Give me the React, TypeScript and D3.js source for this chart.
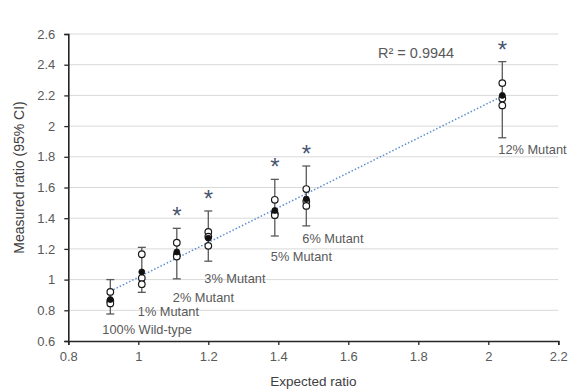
import { useEffect, useRef } from "react";
import * as d3 from "d3";

// values
const groups = ["100% Wild-type", "1% Mutant", "2% Mutant", "3% Mutant", "5% Mutant", "6% Mutant", "12% Mutant"];
const expected = [0.92, 1.01, 1.11, 1.2, 1.39, 1.48, 2.04];
const replicates = [
  [0.92, 0.86, 0.845],
  [1.165, 1.01, 0.97],
  [1.24, 1.16, 1.15],
  [1.31, 1.28, 1.22],
  [1.52, 1.43, 1.42],
  [1.59, 1.51, 1.48],
  [2.28, 2.18, 2.135],
];
const means = [0.87, 1.05, 1.18, 1.27, 1.45, 1.525, 2.2];
const ciLow = [0.776, 0.917, 1.005, 1.12, 1.284, 1.35, 1.924];
const ciHigh = [1.0, 1.21, 1.334, 1.447, 1.653, 1.74, 2.42];
const significant = [false, false, true, true, true, true, true];
const labelY = [0.646, 0.763, 0.854, 0.978, 1.121, 1.238, 1.818];
const xTicks = [0.8, 1, 1.2, 1.4, 1.6, 1.8, 2, 2.2];
const yTicks = [0.6, 0.8, 1, 1.2, 1.4, 1.6, 1.8, 2, 2.2, 2.4, 2.6];
const rSquared = "0.9944";

export default function App() {
  const svgRef = useRef<SVGSVGElement | null>(null);

  useEffect(() => {
    if (!svgRef.current) return;
    const svg = d3.select(svgRef.current);
    svg.selectAll("*").remove();

    const font = "'Liberation Sans', Arial, sans-serif";
    const grey = "#595959";

    const x = d3.scaleLinear().domain([0.8, 2.2]).range([68.3, 558.3]);
    const y = d3.scaleLinear().domain([0.6, 2.6]).range([341, 34]);

    svg.append("rect").attr("width", 580).attr("height", 392).attr("fill", "#fff");

    // gridlines
    svg.append("g")
      .selectAll("line")
      .data(yTicks.slice(1))
      .enter()
      .append("line")
      .attr("x1", x(0.8)).attr("x2", x(2.2))
      .attr("y1", d => y(d)).attr("y2", d => y(d))
      .attr("stroke", "#d9d9d9")
      .attr("stroke-width", 1);

    // axes
    const xAxis = svg.append("g")
      .attr("transform", `translate(0,${y(0.6)})`)
      .call(d3.axisBottom(x).tickValues(xTicks).tickSize(4).tickPadding(7).tickFormat(d => String(+d)));
    const yAxis = svg.append("g")
      .attr("transform", `translate(${x(0.8)},0)`)
      .call(d3.axisLeft(y).tickValues(yTicks).tickSize(4).tickPadding(9).tickFormat(d => String(+d)));

    [xAxis, yAxis].forEach(a => {
      a.select(".domain").attr("stroke", "#262626").attr("stroke-width", 1.6);
      a.selectAll(".tick line").attr("stroke", "#262626").attr("stroke-width", 1.3);
      a.selectAll(".tick text")
        .attr("fill", grey)
        .style("font-family", font)
        .style("font-size", "13px");
    });

    // axis titles
    svg.append("text")
      .attr("x", (x(0.8) + x(2.2)) / 2)
      .attr("y", 386)
      .attr("text-anchor", "middle")
      .attr("fill", "#404040")
      .style("font-family", font)
      .style("font-size", "13.5px")
      .text("Expected ratio");

    svg.append("text")
      .attr("transform", `translate(24,${(y(0.6) + y(2.6)) / 2 - 10}) rotate(-90)`)
      .attr("text-anchor", "middle")
      .attr("fill", "#404040")
      .style("font-family", font)
      .style("font-size", "14px")
      .text("Measured ratio (95% CI)");

    // trend line (least squares on the means)
    const mx = d3.mean(expected) as number;
    const my = d3.mean(means) as number;
    const slope =
      d3.sum(expected, (v, i) => (v - mx) * (means[i] - my)) /
      d3.sum(expected, v => (v - mx) * (v - mx));
    const intercept = my - slope * mx;
    const xExt = d3.extent(expected) as [number, number];

    svg.append("path")
      .datum(xExt)
      .attr("d", d3.line<number>().x(d => x(d)).y(d => y(intercept + slope * d)))
      .attr("fill", "none")
      .attr("stroke", "#5b8fd0")
      .attr("stroke-width", 1.5)
      .attr("stroke-dasharray", "1.5 2");

    // error bars, replicate points, means, stars and labels
    const g = svg.append("g");
    expected.forEach((ex, i) => {
      const cx = x(ex);
      g.append("line")
        .attr("x1", cx).attr("x2", cx)
        .attr("y1", y(ciLow[i])).attr("y2", y(ciHigh[i]))
        .attr("stroke", "#595959").attr("stroke-width", 1.3);
      [ciLow[i], ciHigh[i]].forEach(v => {
        g.append("line")
          .attr("x1", cx - 4).attr("x2", cx + 4)
          .attr("y1", y(v)).attr("y2", y(v))
          .attr("stroke", "#595959").attr("stroke-width", 1.3);
      });

      replicates[i].forEach(v => {
        g.append("circle")
          .attr("cx", cx).attr("cy", y(v)).attr("r", 3.3)
          .attr("fill", "#fff").attr("stroke", "#1a1a1a").attr("stroke-width", 1.2);
      });
      g.append("circle")
        .attr("cx", cx).attr("cy", y(means[i])).attr("r", 3)
        .attr("fill", "#111").attr("stroke", "#111").attr("stroke-width", 0.8);

      if (significant[i]) {
        g.append("text")
          .attr("x", cx)
          .attr("y", y(ciHigh[i]) - 4)
          .attr("text-anchor", "middle")
          .attr("fill", "#4a5670")
          .style("font-family", font)
          .style("font-size", "24px")
          .text("*");
      }

      g.append("text")
        .attr("x", cx - (i === 0 ? 8 : 4))
        .attr("y", y(labelY[i]))
        .attr("fill", grey)
        .style("font-family", font)
        .style("font-size", "12.8px")
        .text(groups[i]);
    });

    svg.append("text")
      .attr("x", 378)
      .attr("y", 58)
      .attr("fill", grey)
      .style("font-family", font)
      .style("font-size", "14.5px")
      .text(`R² = ${rSquared}`);
  }, []);

  return (
    <svg
      ref={svgRef}
      width={580}
      height={392}
      style={{ position: "absolute", left: 0, top: 0 }}
    />
  );
}
